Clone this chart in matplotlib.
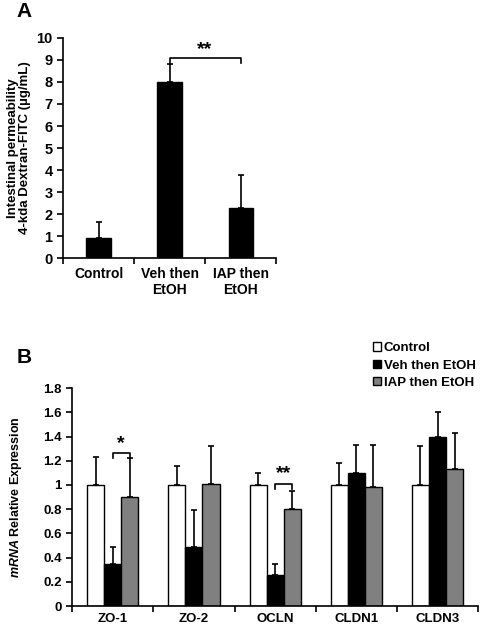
import matplotlib.pyplot as plt
import numpy as np

plt.rcParams['font.family'] = ['Liberation Sans', 'DejaVu Sans']
plt.rcParams['font.weight'] = 'bold'
plt.rcParams['mathtext.fontset'] = 'custom'
plt.rcParams['mathtext.it'] = 'Liberation Sans:italic:bold'
plt.rcParams['mathtext.rm'] = 'Liberation Sans:bold'

# Panel A data
a_groups = ["Control", "Veh then\nEtOH", "IAP then\nEtOH"]
a_means = [0.9, 7.98, 2.3]
a_err = [0.75, 0.84, 1.5]

# Panel B data
b_genes = ["ZO-1", "ZO-2", "OCLN", "CLDN1", "CLDN3"]
b_series = ["Control", "Veh then EtOH", "IAP then EtOH"]
b_control = [1.0, 1.0, 1.0, 1.0, 1.0]
b_control_err = [0.23, 0.16, 0.10, 0.18, 0.32]
b_veh = [0.35, 0.49, 0.26, 1.10, 1.40]
b_veh_err = [0.14, 0.30, 0.09, 0.23, 0.20]
b_iap = [0.90, 1.01, 0.80, 0.98, 1.13]
b_iap_err = [0.32, 0.31, 0.15, 0.35, 0.30]

fig = plt.figure(figsize=(4.81, 6.3), dpi=100)

# ---------- Panel A ----------
ax1 = fig.add_axes([0.131, 0.590, 0.443, 0.350])
x = np.arange(len(a_groups))
ax1.bar(x, a_means, width=0.34, color='black', edgecolor='black')
ax1.errorbar(x, a_means, yerr=[np.zeros(len(a_err)), a_err], fmt='none',
             ecolor='black', elinewidth=1.2, capsize=2.2, capthick=1.2)
ax1.set_xlim(-0.5, 2.5)
ax1.set_ylim(0, 10)
ax1.set_yticks(range(0, 11))
ax1.set_xticks([-0.5, 0.5, 1.5, 2.5])
ax1.set_xticklabels([])
ax1.set_xticks(x, minor=True)
ax1.set_xticklabels(a_groups, minor=True, fontsize=10, fontweight='bold')
ax1.tick_params(axis='x', which='minor', length=0, pad=6)
ax1.tick_params(axis='x', which='major', length=4, width=1.2, direction='out')
ax1.tick_params(axis='y', length=4, width=1.2, labelsize=10.5)
for s in ['top', 'right']:
    ax1.spines[s].set_visible(False)
for s in ['left', 'bottom']:
    ax1.spines[s].set_linewidth(1.2)
ax1.set_ylabel("Intestinal permeability\n4-kda Dextran-FITC (\u00b5g/mL)",
               fontsize=9.5, fontweight='bold', labelpad=4, linespacing=1.0)
# significance bracket
ax1.plot([1, 1, 2, 2], [8.85, 9.1, 9.1, 8.85], color='black', lw=1.2)
ax1.text(1.5, 9.1, "**", ha='center', va='bottom', fontsize=14, fontweight='bold')
fig.text(0.035, 0.981, "A", fontsize=15, fontweight='bold', va='center')

# ---------- Panel B ----------
ax2 = fig.add_axes([0.150, 0.038, 0.844, 0.346])
xb = np.arange(len(b_genes))
w = 0.21
vals = [b_control, b_veh, b_iap]
errs = [b_control_err, b_veh_err, b_iap_err]
colors = ['white', 'black', '#808080']
for i in range(3):
    pos = xb + (i - 1) * w
    ax2.bar(pos, vals[i], width=w, color=colors[i], edgecolor='black',
            linewidth=1.0, label=b_series[i])
    ax2.errorbar(pos, vals[i], yerr=[np.zeros(len(errs[i])), errs[i]], fmt='none',
                 ecolor='black', elinewidth=1.2, capsize=2.0, capthick=1.2)
ax2.set_xlim(-0.5, 4.5)
ax2.set_ylim(0, 1.8)
ax2.set_yticks([0, 0.2, 0.4, 0.6, 0.8, 1, 1.2, 1.4, 1.6, 1.8])
ax2.set_yticklabels(["0", "0.2", "0.4", "0.6", "0.8", "1", "1.2", "1.4", "1.6", "1.8"])
ax2.set_xticks(np.arange(-0.5, 5.0, 1.0))
ax2.set_xticklabels([])
ax2.set_xticks(xb, minor=True)
ax2.set_xticklabels(b_genes, minor=True, fontsize=9.5, fontweight='bold')
ax2.tick_params(axis='x', which='minor', length=0, pad=5)
ax2.tick_params(axis='x', which='major', length=4, width=1.2, direction='out')
ax2.tick_params(axis='y', length=4, width=1.2, labelsize=9.5)
for s in ['top', 'right']:
    ax2.spines[s].set_visible(False)
for s in ['left', 'bottom']:
    ax2.spines[s].set_linewidth(1.2)
ax2.set_ylabel(r"$\it{mRNA}$ Relative Expression", fontsize=9, fontweight='bold', labelpad=14)
# significance brackets
ax2.plot([0, 0, w, w], [1.22, 1.26, 1.26, 1.22], color='black', lw=1.2)
ax2.text(w / 2, 1.27, "*", ha='center', va='bottom', fontsize=14, fontweight='bold')
ax2.plot([2, 2, 2 + w, 2 + w], [0.97, 1.01, 1.01, 0.97], color='black', lw=1.2)
ax2.text(2 + w / 2, 1.02, "**", ha='center', va='bottom', fontsize=14, fontweight='bold')
fig.text(0.035, 0.432, "B", fontsize=15, fontweight='bold', va='center')

handles, labels = ax2.get_legend_handles_labels()
fig.legend(handles, labels, loc='upper left', bbox_to_anchor=(0.765, 0.465),
           frameon=False, fontsize=9.5, handlelength=0.6, handleheight=0.6,
           handletextpad=0.2, labelspacing=0.4, borderaxespad=0)

fig.savefig("out.png", dpi=100)
